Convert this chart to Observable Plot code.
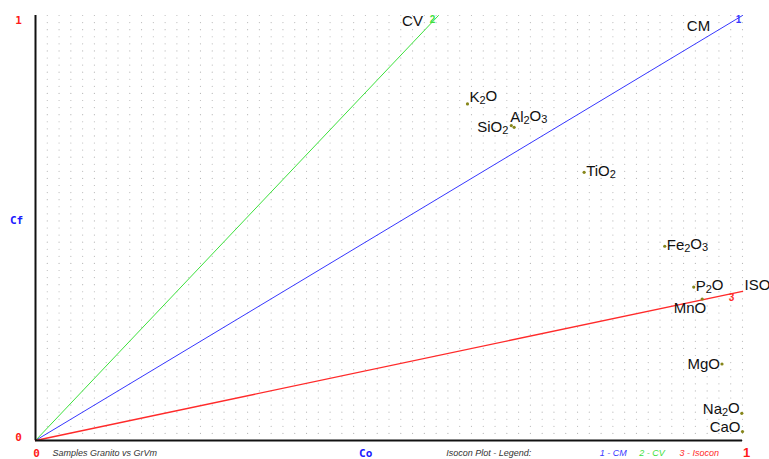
<!DOCTYPE html>
<html>
<head>
<meta charset="utf-8">
<script src="https://cdn.jsdelivr.net/npm/d3@7"></script>
<script src="https://cdn.jsdelivr.net/npm/@observablehq/plot@0.6"></script>
<style>
  html, body { margin: 0; padding: 0; background: #fff; }
  #chart { width: 769px; height: 459px; }
</style>
</head>
<body>
<div id="chart"></div>
<script>
// ---- data ----
const oxides = ["K₂O", "SiO₂", "Al₂O₃", "TiO₂", "Fe₂O₃", "P₂O", "MnO", "MgO", "Na₂O", "CaO"];
const co = [0.611, 0.673, 0.677, 0.776, 0.890, 0.931, 0.943, 0.971, 0.999, 1.0];
const cf = [0.792, 0.741, 0.737, 0.631, 0.457, 0.361, 0.333, 0.180, 0.064, 0.021];

const lineNames = ["CM", "CV", "ISO"];
const lineNums = ["1", "2", "3"];
const lineEndX = [1.0, 0.570, 1.0];
const lineEndY = [1.0, 1.0, 0.351];

const axisTicks = [0, 1];
const legendItems = ["1 - CM", "2 - CV", "3 - Isocon"];
const subtitle = "Samples Granito vs GrVm";
const legendTitle = "Isocon Plot - Legend:";

// ---- styles / placement ----
const lineColors = ["#3838ff", "#3ce03c", "#ff2a2a"];
const lineWidths = [1, 1, 1.4];
const numPlace = [{dx: -4, dy: 4}, {dx: -6, dy: 4}, {dx: -11, dy: 6}];
const namePlace = [{dx: -44, dy: 11, anchor: "middle"}, {dx: -26, dy: 6, anchor: "middle"}, {dx: 2, dy: -6, anchor: "start"}];
const labelPlace = {
  "K₂O":  {dx: 2, dy: -7, anchor: "start"},
  "SiO₂": {dx: -3, dy: 2, anchor: "end"},
  "Al₂O₃":{dx: -4, dy: -10, anchor: "start"},
  "TiO₂": {dx: 2, dy: -1, anchor: "start"},
  "Fe₂O₃":{dx: 2, dy: -1, anchor: "start"},
  "P₂O":  {dx: 2, dy: -1, anchor: "start"},
  "MnO":  {dx: 4, dy: 9, anchor: "end"},
  "MgO":  {dx: -2, dy: 0, anchor: "end"},
  "Na₂O": {dx: -2, dy: -4, anchor: "end"},
  "CaO":  {dx: -2, dy: -4, anchor: "end"}
};
const legendX = [0.798, 0.854, 0.911];

const grid = d3.cross(d3.range(0, 61), d3.range(0, 61)).map(([i, j]) => ({x: i / 60, y: j / 60}));
const mono = "DejaVu Sans Mono";
const sans = "Liberation Sans";

const marks = [];
marks.push(Plot.dot(grid, {x: "x", y: "y", r: 0.6, fill: "#b8b8b8", stroke: null}));

lineNames.forEach((n, i) => {
  marks.push(Plot.line([[0, 0], [lineEndX[i], lineEndY[i]]], {x: d => d[0], y: d => d[1], stroke: lineColors[i], strokeWidth: lineWidths[i]}));
  marks.push(Plot.text([i], {x: k => lineEndX[k], y: k => lineEndY[k], text: k => lineNums[k], dx: numPlace[i].dx, dy: numPlace[i].dy, fill: lineColors[i], fontWeight: "bold", fontSize: 10, fontFamily: sans}));
  marks.push(Plot.text([i], {x: k => lineEndX[k], y: k => lineEndY[k], text: k => lineNames[k], dx: namePlace[i].dx, dy: namePlace[i].dy, textAnchor: namePlace[i].anchor, fill: "#111", fontSize: 15, fontFamily: sans}));
});

marks.push(Plot.ruleX([0], {stroke: "#111", strokeWidth: 2}));
marks.push(Plot.ruleY([0], {stroke: "#111", strokeWidth: 2}));

marks.push(Plot.dot(oxides.map((_, i) => i), {x: i => co[i], y: i => cf[i], r: 1.6, fill: "#86861a", stroke: null}));
oxides.forEach((n, i) => {
  const p = labelPlace[n];
  marks.push(Plot.text([i], {x: k => co[k], y: k => cf[k], text: k => oxides[k], dx: p.dx, dy: p.dy, textAnchor: p.anchor, fill: "#111", fontSize: 15, fontFamily: sans, className: "oxlabel"}));
});

// axis tick labels
marks.push(Plot.text([axisTicks[1]], {x: 0, y: d => d, text: d => String(d), dx: -17, dy: 5, fill: "#ff1a1a", fontWeight: "bold", fontSize: 11, fontFamily: mono}));
marks.push(Plot.text([axisTicks[0]], {x: 0, y: d => d, text: d => String(d), dx: -17, dy: -3, fill: "#ff1a1a", fontWeight: "bold", fontSize: 11, fontFamily: mono}));
marks.push(Plot.text([axisTicks[0]], {x: d => d, y: 0, text: d => String(d), dx: 1, dy: 13, fill: "#ff1a1a", fontWeight: "bold", fontSize: 11, fontFamily: mono}));
marks.push(Plot.text([axisTicks[1]], {x: d => d, y: 0, text: d => String(d), dx: 4, dy: 12, fill: "#ff1a1a", fontWeight: "bold", fontSize: 13, fontFamily: sans}));
marks.push(Plot.text(["Cf"], {x: 0, y: 0.518, text: d => d, dx: -19, fill: "#1a1aff", fontWeight: "bold", fontSize: 11, fontFamily: mono}));
marks.push(Plot.text(["Co"], {x: 0.467, y: 0, text: d => d, dy: 13, fill: "#1a1aff", fontWeight: "bold", fontSize: 11, fontFamily: mono}));

// bottom captions
marks.push(Plot.text([subtitle], {x: 0.024, y: 0, text: d => d, dy: 13, textAnchor: "start", fill: "#333", fontStyle: "italic", fontSize: 9, fontFamily: sans}));
marks.push(Plot.text([legendTitle], {x: 0.581, y: 0, text: d => d, dy: 13, textAnchor: "start", fill: "#333", fontStyle: "italic", fontSize: 9, fontFamily: sans}));
legendItems.forEach((t, i) => {
  marks.push(Plot.text([t], {x: legendX[i], y: 0, text: d => d, dy: 13, textAnchor: "start", fill: lineColors[i], fontStyle: "italic", fontSize: 9, fontFamily: sans}));
});

const chart = Plot.plot({
  width: 769,
  height: 459,
  marginLeft: 35,
  marginRight: 27,
  marginTop: 15,
  marginBottom: 19,
  x: {domain: [0, 1], axis: null},
  y: {domain: [0, 1], axis: null},
  style: {background: "#fff", fontFamily: sans, overflow: "visible"},
  marks
});

// render subscript digits as smaller lowered tspans (keeps real text)
const subMap = {"₀":"0","₁":"1","₂":"2","₃":"3","₄":"4","₅":"5","₆":"6","₇":"7","₈":"8","₉":"9"};
d3.select(chart).selectAll(".oxlabel text").each(function() {
  const el = d3.select(this);
  const s = el.text();
  el.text(null);
  let buf = "", sub = false;
  const flush = () => {
    if (!buf) return;
    const t = el.append("tspan").text(buf);
    if (sub) t.attr("font-size", 11).attr("dy", "0.18em");
    else if (el.selectAll("tspan").size() > 1) t.attr("dy", "-0.18em");
    buf = "";
  };
  for (const ch of s) {
    const isSub = ch in subMap;
    if (isSub !== sub) { flush(); sub = isSub; }
    buf += isSub ? subMap[ch] : ch;
  }
  flush();
});

document.getElementById("chart").appendChild(chart);
</script>
</body>
</html>
